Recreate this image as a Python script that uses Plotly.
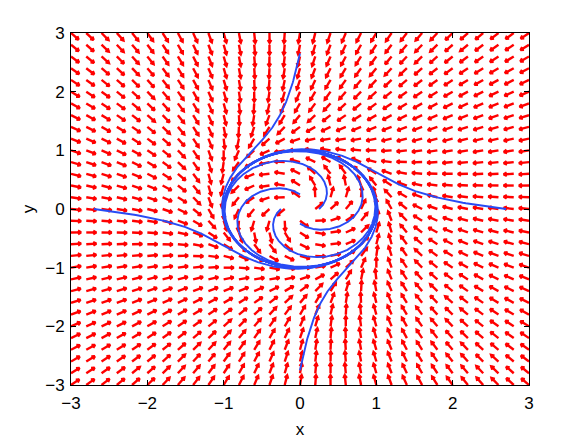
import numpy as np
import plotly.graph_objects as go

# ---- data ----
tick_vals = [-3, -2, -1, 0, 1, 2, 3]
grid_x = [round(-3 + 0.2 * i, 10) for i in range(31)]
grid_y = [round(-3 + 0.2 * i, 10) for i in range(31)]
start_x = [0.0, 0.0, -2.7, 2.7, 0.25, 0.0, -0.25, 0.0]
start_y = [2.65, -2.75, 0.0, 0.0, 0.0, 0.25, 0.0, -0.25]
t_end = 12.0

# ---- layout geometry ----
W, H = 584, 439
ML, MR, MT, MB = 63, 63, 25, 59
PW, PH = W - ML - MR, H - MT - MB
SX, SY = PW / 6.0, PH / 6.0  # px per data unit


def field(x, y):
    r2 = x * x + y * y
    return -y + x * (1 - r2), x + y * (1 - r2)


# ---- quiver arrows ----
L_PX = 10.0
HEAD_PX = 3.5
HEAD_ANG = np.deg2rad(30)
ax, ay = [], []
for gx in grid_x:
    for gy in grid_y:
        u, v = field(gx, gy)
        px, py = u * SX, v * SY
        n = np.hypot(px, py)
        if n == 0:
            continue
        px, py = px / n, py / n
        tx, ty = gx + L_PX * px / SX, gy + L_PX * py / SY
        ang = np.arctan2(py, px)
        hl = []
        for s in (1, -1):
            a = ang + np.pi + s * HEAD_ANG
            hl.append((tx + HEAD_PX * np.cos(a) / SX, ty + HEAD_PX * np.sin(a) / SY))
        ax += [gx, tx, None, hl[0][0], tx, hl[1][0], None]
        ay += [gy, ty, None, hl[0][1], ty, hl[1][1], None]

fig = go.Figure()
fig.add_trace(go.Scatter(x=ax, y=ay, mode="lines",
                         line=dict(color="rgb(255,0,0)", width=2.4),
                         hoverinfo="skip", showlegend=False))


# ---- streamlines ----
def rk4(x0, y0, T, dt=0.005):
    xs, ys = [x0], [y0]
    x, y = x0, y0
    for _ in range(int(T / dt)):
        k1 = field(x, y)
        k2 = field(x + dt / 2 * k1[0], y + dt / 2 * k1[1])
        k3 = field(x + dt / 2 * k2[0], y + dt / 2 * k2[1])
        k4 = field(x + dt * k3[0], y + dt * k3[1])
        x += dt / 6 * (k1[0] + 2 * k2[0] + 2 * k3[0] + k4[0])
        y += dt / 6 * (k1[1] + 2 * k2[1] + 2 * k3[1] + k4[1])
        xs.append(x)
        ys.append(y)
    return xs, ys


for sx0, sy0 in zip(start_x, start_y):
    xs, ys = rk4(sx0, sy0, t_end)
    fig.add_trace(go.Scatter(x=xs, y=ys, mode="lines",
                             line=dict(color="rgb(40,75,245)", width=1.9),
                             hoverinfo="skip", showlegend=False))

FONT = dict(family="Liberation Sans, Arial, sans-serif", size=17, color="black")
axis_common = dict(
    range=[-3, 3], tickvals=tick_vals, ticks="inside", ticklen=5,
    tickcolor="black", showline=True, linecolor="black", linewidth=1,
    mirror="ticks", showgrid=False, zeroline=False, tickfont=FONT,
)
fig.update_layout(
    width=W, height=H,
    margin=dict(l=ML, r=MR, t=MT, b=MB),
    paper_bgcolor="white", plot_bgcolor="white",
    xaxis=dict(axis_common, ticklabelstandoff=3,
               title=dict(text="x", standoff=10, font=FONT)),
    yaxis=dict(axis_common, ticklabelstandoff=2,
               title=dict(text="y", standoff=6, font=FONT)),
)
fig.write_html("out.html")
